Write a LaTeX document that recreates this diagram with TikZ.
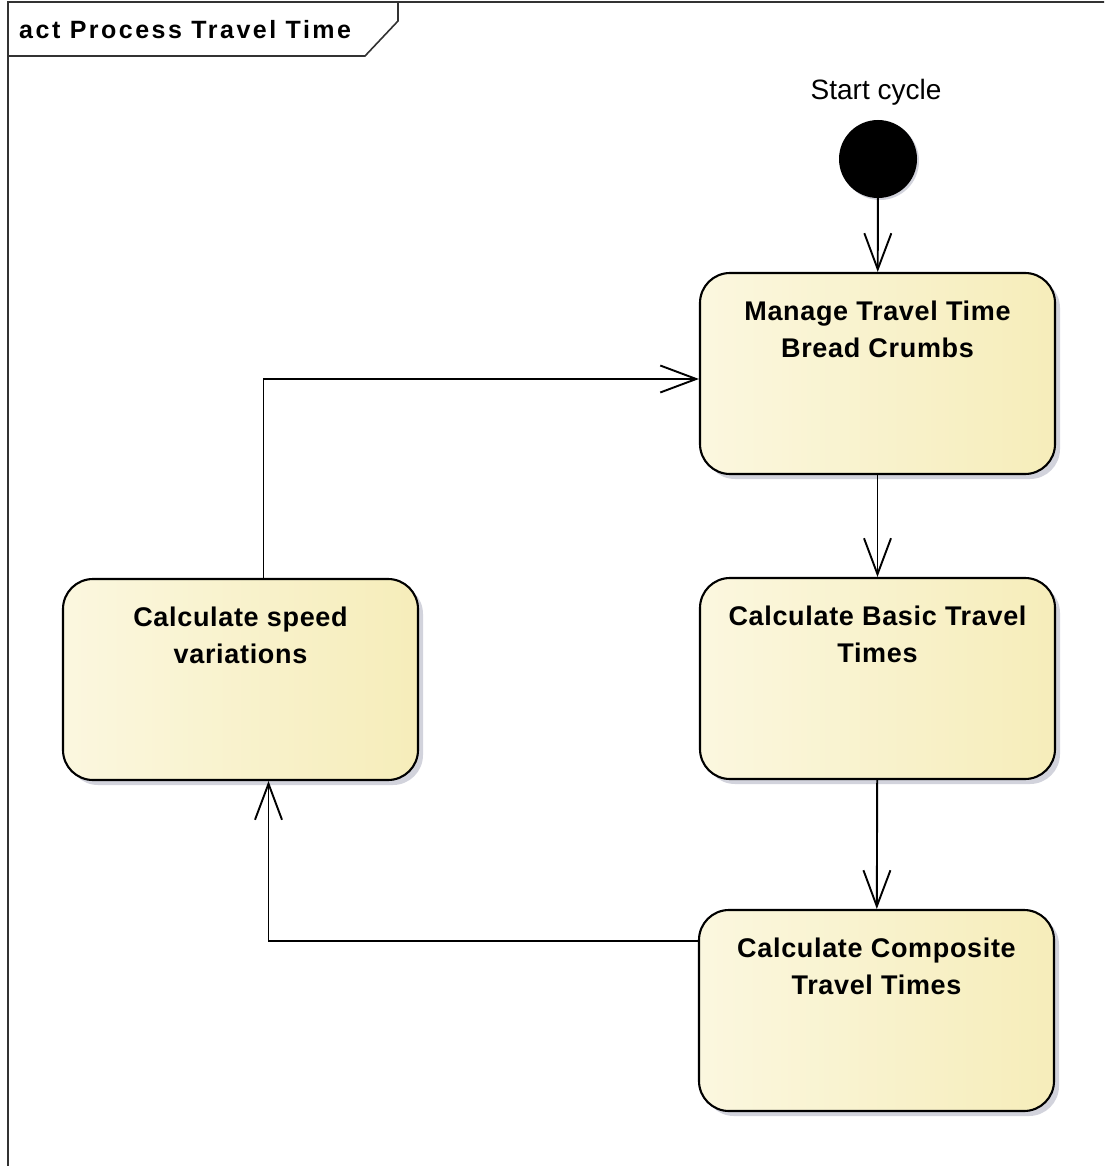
\documentclass[tikz,border=0pt]{standalone}
\usepackage{fontspec}
\setmainfont{Liberation Sans}
\newfontfamily\titlefont[LetterSpace=10]{Liberation Sans}
\newfontfamily\boxfont[LetterSpace=2.5]{Liberation Sans}
\usetikzlibrary{arrows.meta,shadows}
\definecolor{actleft}{RGB}{251,247,223}
\definecolor{actright}{RGB}{246,237,186}
\definecolor{shadowgrey}{RGB}{210,211,220}
\definecolor{framegrey}{RGB}{50,50,50}

\begin{document}
\begin{tikzpicture}[x=1pt, y=-1pt, >={Straight Barb[length=36pt,width=27pt]},
  activity/.style={draw, line width=2.1pt, rounded corners=30pt,
    minimum width=355pt, minimum height=201pt,
    left color=actleft, right color=actright,
    drop shadow={shadow xshift=5pt, shadow yshift=-5pt, fill=shadowgrey, opacity=1}},
  acttext/.style={anchor=north, align=center, inner sep=0pt,
    font=\boxfont\bfseries\fontsize{27}{37}\selectfont},
  flow/.style={->, line width=1.9pt}]
  \clip (0,0) rectangle (1104,1166);
  % frame and title tab
  \draw[framegrey, line width=1.6pt] (8,1180) -- (8,2) -- (1120,2);
  \draw[framegrey, line width=1.6pt] (8,56) -- (365,56) -- (398,21) -- (398,2);
  \node[anchor=base west, inner sep=0pt, font=\titlefont\bfseries\fontsize{25}{28}\selectfont]
    (title) at (19,39) {act Process Travel Time};
  % initial node
  \node[anchor=base, inner sep=0pt, font=\fontsize{28}{32}\selectfont] (startlabel) at (876,100) {Start cycle};
  \node[circle, fill=black, minimum size=78pt, inner sep=0pt,
    drop shadow={shadow xshift=2pt, shadow yshift=-2pt, fill=shadowgrey, opacity=1}] (start) at (878,159) {};
  % activities
  \node[activity] (manage) at (877.5,373.5) {};
  \node[acttext] (manage-text) at ([yshift=-29pt]manage.north) {Manage Travel Time\\Bread Crumbs};
  \node[activity] (basic) at (877.5,678.5) {};
  \node[acttext] (basic-text) at ([yshift=-29pt]basic.north) {Calculate Basic Travel\\Times};
  \node[activity] (composite) at (876.5,1010.5) {};
  \node[acttext] (composite-text) at ([yshift=-29pt]composite.north) {Calculate Composite\\Travel Times};
  \node[activity] (speed) at (240.5,679.5) {};
  \node[acttext] (speed-text) at ([yshift=-29pt]speed.north) {Calculate speed\\variations};
  % control flows
  \draw[flow] (start) -- (manage);
  \draw[flow] (manage) -- (basic);
  \draw[flow] (basic) -- (composite);
  \draw[flow] ([yshift=-32pt]composite.north west) -| ([xshift=28pt]speed.south);
  \draw[flow] ([xshift=23pt]speed.north) |- ([yshift=-5.5pt]manage.west);
\end{tikzpicture}
\end{document}
